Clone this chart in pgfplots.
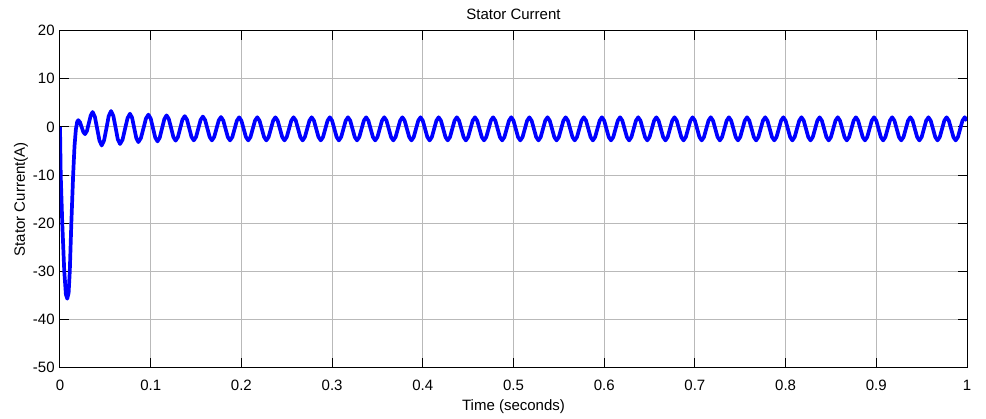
\documentclass[border=0pt]{standalone}
\usepackage{fontspec}
\setmainfont{Liberation Sans}
\usepackage{pgfplots}
\pgfplotsset{compat=1.18}
\definecolor{mblue}{RGB}{0,0,255}
\begin{document}
\fontsize{7.5}{9}\selectfont
\begin{tikzpicture}
\path[use as bounding box] (-30pt,-25.25pt) rectangle (463pt,183.75pt);
\begin{axis}[
  scale only axis,
  width=453.5pt, height=168.4pt,
  xmin=0, xmax=1, ymin=-50, ymax=20,
  xtick={0,0.1,0.2,0.3,0.4,0.5,0.6,0.7,0.8,0.9,1},
  ytick={-50,-40,-30,-20,-10,0,10,20},
  tick align=inside,
  major tick length=4.5pt,
  grid=major,
  major grid style={gray!55, line width=0.5pt},
  axis line style={black, line width=0.5pt},
  tick style={black, line width=0.5pt},
  /pgf/number format/assume math mode=true,
  every tick label/.append style={font=\fontsize{7.5}{9}\selectfont},
  xticklabel style={anchor=base, yshift=-11.75pt},
  yticklabel style={anchor=east, inner sep=0pt, xshift=-2.5pt},
  title={Stator Current},
  title style={at={(axis description cs:0.5,1)}, anchor=base, yshift=-0.2pt, font=\fontsize{7.5}{9}\selectfont},
  xlabel={Time (seconds)},
  xlabel style={at={(axis description cs:0.5,0)}, anchor=base, yshift=-21.75pt, font=\fontsize{7.5}{9}\selectfont},
  ylabel={Stator Current(A)},
  ylabel style={at={(axis description cs:-0.0386,0.5)}, anchor=base, font=\fontsize{7.5}{9}\selectfont},
]
\addplot[mblue, line width=1.85pt, line join=round] coordinates {
(0,0)(0.0008,-10)(0.0025,-20)(0.0047,-30)(0.0065,-34.8)(0.008,-35.7)(0.0095,-34.5)(0.0108,-30)(0.0125,-20)(0.0145,-10)(0.016,-4)(0.0175,-0.5)(0.019,1.1)(0.0202,1.4)
(0.02205,0.97)(0.0239,-0.05)(0.02575,-1.08)(0.0276,-1.5)
(0.0297,-0.84)(0.0318,0.8)(0.0339,2.4)(0.036,3.1)
(0.0385,2.08)(0.041,-0.375)(0.0435,-2.83)(0.046,-3.85)
(0.0486,-2.8)(0.0512,-0.275)(0.0537,2.25)(0.0563,3.3)
(0.0588,2.3)(0.0613,-0.125)(0.0637,-2.55)(0.0662,-3.55)
(0.069,-2.63)(0.0717,-0.4)(0.0745,1.83)(0.0772,2.75)
(0.0795,1.89)(0.0818,-0.2)(0.0841,-2.29)(0.0864,-3.15)
(0.0892,-2.32)(0.092,-0.3)(0.0947,1.72)(0.0975,2.55)
(0.1,1.74)(0.1025,-0.225)(0.105,-2.2)(0.1075,-3.0)
(0.11,-2.21)(0.1125,-0.3)(0.115,1.61)(0.1175,2.4)
(0.12,1.64)(0.1225,-0.225)(0.125,-2.1)(0.1275,-2.85)
(0.13,-2.11)(0.1325,-0.3)(0.135,1.51)(0.1375,2.25)
(0.14,1.52)(0.1425,-0.275)(0.145,-2.07)(0.1475,-2.8)
(0.15,-2.08)(0.1525,-0.325)(0.155,1.43)(0.1575,2.15)
(0.16,1.43)(0.1625,-0.325)(0.165,-2.08)(0.1675,-2.8)
(0.17,-2.09)(0.1725,-0.375)(0.175,1.34)(0.1775,2.05)
(0.18,1.34)(0.1825,-0.375)(0.185,-2.09)(0.1875,-2.8)
(0.19,-2.1)(0.1925,-0.4)(0.195,1.3)(0.1975,2.0)(0.2,1.3)(0.2025,-0.4)(0.205,-2.1)(0.2075,-2.8)
(0.21,-2.1)(0.2125,-0.4)(0.215,1.3)(0.2175,2.0)(0.22,1.3)(0.2225,-0.4)(0.225,-2.1)(0.2275,-2.8)
(0.23,-2.1)(0.2325,-0.4)(0.235,1.3)(0.2375,2.0)(0.24,1.3)(0.2425,-0.4)(0.245,-2.1)(0.2475,-2.8)
(0.25,-2.1)(0.2525,-0.4)(0.255,1.3)(0.2575,2.0)(0.26,1.3)(0.2625,-0.4)(0.265,-2.1)(0.2675,-2.8)
(0.27,-2.1)(0.2725,-0.4)(0.275,1.3)(0.2775,2.0)(0.28,1.3)(0.2825,-0.4)(0.285,-2.1)(0.2875,-2.8)
(0.29,-2.1)(0.2925,-0.4)(0.295,1.3)(0.2975,2.0)(0.3,1.3)(0.3025,-0.4)(0.305,-2.1)(0.3075,-2.8)
(0.31,-2.1)(0.3125,-0.4)(0.315,1.3)(0.3175,2.0)(0.32,1.3)(0.3225,-0.4)(0.325,-2.1)(0.3275,-2.8)
(0.33,-2.1)(0.3325,-0.4)(0.335,1.3)(0.3375,2.0)(0.34,1.3)(0.3425,-0.4)(0.345,-2.1)(0.3475,-2.8)
(0.35,-2.1)(0.3525,-0.4)(0.355,1.3)(0.3575,2.0)(0.36,1.3)(0.3625,-0.4)(0.365,-2.1)(0.3675,-2.8)
(0.37,-2.1)(0.3725,-0.4)(0.375,1.3)(0.3775,2.0)(0.38,1.3)(0.3825,-0.4)(0.385,-2.1)(0.3875,-2.8)
(0.39,-2.1)(0.3925,-0.4)(0.395,1.3)(0.3975,2.0)(0.4,1.3)(0.4025,-0.4)(0.405,-2.1)(0.4075,-2.8)
(0.41,-2.1)(0.4125,-0.4)(0.415,1.3)(0.4175,2.0)(0.42,1.3)(0.4225,-0.4)(0.425,-2.1)(0.4275,-2.8)
(0.43,-2.1)(0.4325,-0.4)(0.435,1.3)(0.4375,2.0)(0.44,1.3)(0.4425,-0.4)(0.445,-2.1)(0.4475,-2.8)
(0.45,-2.1)(0.4525,-0.4)(0.455,1.3)(0.4575,2.0)(0.46,1.3)(0.4625,-0.4)(0.465,-2.1)(0.4675,-2.8)
(0.47,-2.1)(0.4725,-0.4)(0.475,1.3)(0.4775,2.0)(0.48,1.3)(0.4825,-0.4)(0.485,-2.1)(0.4875,-2.8)
(0.49,-2.1)(0.4925,-0.4)(0.495,1.3)(0.4975,2.0)(0.5,1.3)(0.5025,-0.4)(0.505,-2.1)(0.5075,-2.8)
(0.51,-2.1)(0.5125,-0.4)(0.515,1.3)(0.5175,2.0)(0.52,1.3)(0.5225,-0.4)(0.525,-2.1)(0.5275,-2.8)
(0.53,-2.1)(0.5325,-0.4)(0.535,1.3)(0.5375,2.0)(0.54,1.3)(0.5425,-0.4)(0.545,-2.1)(0.5475,-2.8)
(0.55,-2.1)(0.5525,-0.4)(0.555,1.3)(0.5575,2.0)(0.56,1.3)(0.5625,-0.4)(0.565,-2.1)(0.5675,-2.8)
(0.57,-2.1)(0.5725,-0.4)(0.575,1.3)(0.5775,2.0)(0.58,1.3)(0.5825,-0.4)(0.585,-2.1)(0.5875,-2.8)
(0.59,-2.1)(0.5925,-0.4)(0.595,1.3)(0.5975,2.0)(0.6,1.3)(0.6025,-0.4)(0.605,-2.1)(0.6075,-2.8)
(0.61,-2.1)(0.6125,-0.4)(0.615,1.3)(0.6175,2.0)(0.62,1.3)(0.6225,-0.4)(0.625,-2.1)(0.6275,-2.8)
(0.63,-2.1)(0.6325,-0.4)(0.635,1.3)(0.6375,2.0)(0.64,1.3)(0.6425,-0.4)(0.645,-2.1)(0.6475,-2.8)
(0.65,-2.1)(0.6525,-0.4)(0.655,1.3)(0.6575,2.0)(0.66,1.3)(0.6625,-0.4)(0.665,-2.1)(0.6675,-2.8)
(0.67,-2.1)(0.6725,-0.4)(0.675,1.3)(0.6775,2.0)(0.68,1.3)(0.6825,-0.4)(0.685,-2.1)(0.6875,-2.8)
(0.69,-2.1)(0.6925,-0.4)(0.695,1.3)(0.6975,2.0)(0.7,1.3)(0.7025,-0.4)(0.705,-2.1)(0.7075,-2.8)
(0.71,-2.1)(0.7125,-0.4)(0.715,1.3)(0.7175,2.0)(0.72,1.3)(0.7225,-0.4)(0.725,-2.1)(0.7275,-2.8)
(0.73,-2.1)(0.7325,-0.4)(0.735,1.3)(0.7375,2.0)(0.74,1.3)(0.7425,-0.4)(0.745,-2.1)(0.7475,-2.8)
(0.75,-2.1)(0.7525,-0.4)(0.755,1.3)(0.7575,2.0)(0.76,1.3)(0.7625,-0.4)(0.765,-2.1)(0.7675,-2.8)
(0.77,-2.1)(0.7725,-0.4)(0.775,1.3)(0.7775,2.0)(0.78,1.3)(0.7825,-0.4)(0.785,-2.1)(0.7875,-2.8)
(0.79,-2.1)(0.7925,-0.4)(0.795,1.3)(0.7975,2.0)(0.8,1.3)(0.8025,-0.4)(0.805,-2.1)(0.8075,-2.8)
(0.81,-2.1)(0.8125,-0.4)(0.815,1.3)(0.8175,2.0)(0.82,1.3)(0.8225,-0.4)(0.825,-2.1)(0.8275,-2.8)
(0.83,-2.1)(0.8325,-0.4)(0.835,1.3)(0.8375,2.0)(0.84,1.3)(0.8425,-0.4)(0.845,-2.1)(0.8475,-2.8)
(0.85,-2.1)(0.8525,-0.4)(0.855,1.3)(0.8575,2.0)(0.86,1.3)(0.8625,-0.4)(0.865,-2.1)(0.8675,-2.8)
(0.87,-2.1)(0.8725,-0.4)(0.875,1.3)(0.8775,2.0)(0.88,1.3)(0.8825,-0.4)(0.885,-2.1)(0.8875,-2.8)
(0.89,-2.1)(0.8925,-0.4)(0.895,1.3)(0.8975,2.0)(0.9,1.3)(0.9025,-0.4)(0.905,-2.1)(0.9075,-2.8)
(0.91,-2.1)(0.9125,-0.4)(0.915,1.3)(0.9175,2.0)(0.92,1.3)(0.9225,-0.4)(0.925,-2.1)(0.9275,-2.8)
(0.93,-2.1)(0.9325,-0.4)(0.935,1.3)(0.9375,2.0)(0.94,1.3)(0.9425,-0.4)(0.945,-2.1)(0.9475,-2.8)
(0.95,-2.1)(0.9525,-0.4)(0.955,1.3)(0.9575,2.0)(0.96,1.3)(0.9625,-0.4)(0.965,-2.1)(0.9675,-2.8)
(0.97,-2.1)(0.9725,-0.4)(0.975,1.3)(0.9775,2.0)(0.98,1.3)(0.9825,-0.4)(0.985,-2.1)(0.9875,-2.8)
(0.99,-2.1)(0.9925,-0.4)(0.995,1.3)(0.9975,2.0)(1,1.3)
};
\end{axis}
\end{tikzpicture}
\end{document}
